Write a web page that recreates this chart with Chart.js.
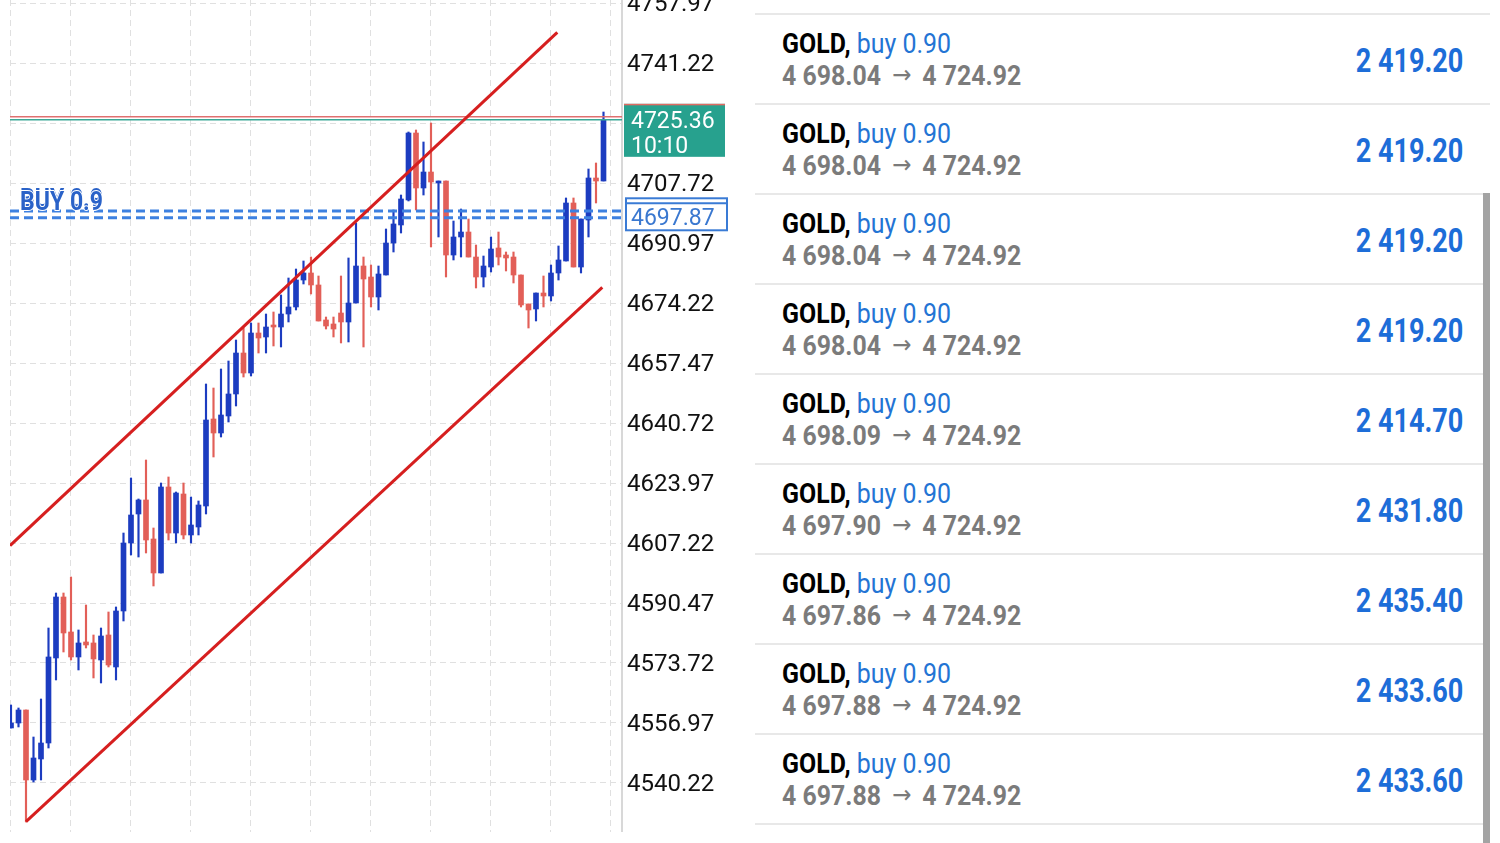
<!DOCTYPE html>
<html>
<head>
<meta charset="utf-8">
<script src="https://cdn.jsdelivr.net/npm/chart.js@4.4.1/dist/chart.umd.min.js"></script>
<style>
  html, body { margin: 0; padding: 0; background: #fff; }
  body { width: 1500px; height: 843px; position: relative; overflow: hidden; font-family: Roboto, "Noto Sans", sans-serif; }
  #chartBox { position: absolute; left: 0; top: 0; width: 740px; height: 832px; }
  #trades { position: absolute; left: 755px; top: 0; width: 735px; height: 843px; }
  .sep { position: absolute; left: 0; width: 735px; height: 2px; background: #e8e8e8; }
  .l1, .l2, .val { position: absolute; white-space: nowrap; }
  .l1 { left: 27px; font-size: 28px; line-height: 28px; transform-origin: 0 50%; transform: scaleX(0.89); }
  .l1 .sym { font-weight: bold; color: #000; }
  .l1 .side { color: #2374d4; }
  .l2 { left: 27px; font-size: 27px; line-height: 27px; font-weight: bold; color: #7b7b7b; transform-origin: 0 50%; transform: scaleX(0.92); }
  .l2 .arr { display: inline-block; font-family: "DejaVu Sans", sans-serif; font-weight: normal; font-size: 25px; margin: 0 12px; position: relative; top: -2px; }
  .val { right: 27px; font-size: 33px; line-height: 33px; font-weight: bold; color: #1d6dd8; transform-origin: 100% 50%; transform: scaleX(0.82); }
  #scroll { position: absolute; left: 1483px; top: 193px; width: 7px; height: 650px; background: #a3a3a3; }
</style>
</head>
<body>
<div id="chartBox"><canvas id="chart" width="740" height="832"></canvas></div>
<div id="trades"></div>
<div id="scroll"></div>
<script>
// candles, oldest first (index = bar number)
const opens = [4555.58, 4556.97, 4560.60, 4541.06, 4546.92, 4551.39, 4575.12, 4592.15, 4582.38, 4575.40,
  4579.59, 4579.31, 4574.56, 4581.54, 4572.61, 4588.24, 4607.22, 4615.32, 4619.23, 4608.34,
  4598.85, 4622.86, 4610.01, 4620.90, 4609.46, 4611.69, 4617.55, 4641.84, 4637.93, 4642.68,
  4648.82, 4660.26, 4654.68, 4665.85, 4664.73, 4667.80, 4667.52, 4671.15, 4673.11, 4680.64,
  4682.60, 4679.25, 4669.48, 4668.36, 4671.43, 4668.92, 4674.22, 4684.55, 4681.48, 4675.90,
  4682.04, 4690.97, 4696.00, 4702.98, 4721.68, 4706.33, 4710.79, 4707.72, 4708.28, 4687.62,
  4692.65, 4694.04, 4687.06, 4681.48, 4684.27, 4689.58, 4687.62, 4687.06, 4682.04, 4673.94,
  4672.55, 4677.01, 4676.18, 4682.60, 4685.95, 4702.14, 4684.27, 4697.39, 4709.12, 4708.28];
const highs = [4562.00, 4561.16, 4560.60, 4553.06, 4563.67, 4583.49, 4593.26, 4593.26, 4597.73, 4582.94,
  4589.91, 4581.54, 4583.49, 4587.96, 4589.36, 4610.01, 4625.37, 4619.51, 4630.39, 4611.41,
  4623.97, 4625.65, 4621.46, 4623.97, 4620.06, 4618.95, 4651.61, 4650.49, 4655.80, 4658.03,
  4663.89, 4667.24, 4668.64, 4668.64, 4671.15, 4671.71, 4676.46, 4681.20, 4683.71, 4685.95,
  4687.06, 4681.76, 4670.31, 4670.31, 4681.76, 4686.79, 4696.56, 4687.06, 4684.83, 4684.55,
  4694.88, 4700.19, 4704.37, 4721.96, 4722.52, 4719.17, 4724.47, 4708.28, 4708.28, 4697.11,
  4700.46, 4697.67, 4690.41, 4687.34, 4692.65, 4694.04, 4688.46, 4688.46, 4682.04, 4673.94,
  4677.01, 4681.76, 4684.83, 4690.14, 4703.54, 4703.54, 4697.67, 4711.63, 4713.31, 4727.54];
const lows = [4555.58, 4555.86, 4529.34, 4540.50, 4541.06, 4549.99, 4568.98, 4576.79, 4574.56, 4571.77,
  4577.91, 4569.54, 4568.14, 4572.61, 4568.98, 4585.45, 4603.87, 4603.31, 4604.43, 4595.22,
  4598.85, 4608.06, 4607.22, 4608.34, 4607.22, 4609.46, 4615.32, 4631.23, 4636.81, 4641.00,
  4645.47, 4653.56, 4653.84, 4660.26, 4660.26, 4662.22, 4661.94, 4668.92, 4672.27, 4679.53,
  4676.74, 4669.20, 4666.96, 4664.73, 4663.06, 4663.34, 4674.22, 4661.94, 4673.11, 4672.27,
  4682.04, 4688.46, 4693.76, 4702.70, 4700.19, 4704.37, 4689.86, 4692.65, 4681.48, 4686.23,
  4687.06, 4687.06, 4678.41, 4678.69, 4682.88, 4684.83, 4683.16, 4679.81, 4673.11, 4667.24,
  4669.20, 4673.11, 4674.78, 4680.64, 4685.95, 4684.27, 4682.60, 4692.65, 4702.14, 4708.28];
const closes = [4556.97, 4560.60, 4541.06, 4547.20, 4551.39, 4575.40, 4592.15, 4582.10, 4575.40, 4579.31,
  4578.75, 4574.84, 4581.26, 4573.16, 4588.24, 4607.22, 4615.04, 4619.23, 4608.06, 4598.85,
  4622.86, 4610.01, 4621.18, 4609.46, 4612.25, 4617.83, 4641.56, 4637.93, 4642.96, 4648.82,
  4660.26, 4654.68, 4665.85, 4664.45, 4667.52, 4667.52, 4671.15, 4673.11, 4680.64, 4682.60,
  4679.25, 4669.20, 4667.80, 4666.96, 4668.92, 4674.22, 4684.55, 4680.92, 4675.90, 4682.32,
  4690.97, 4696.28, 4703.26, 4721.68, 4706.33, 4710.79, 4708.00, 4708.28, 4687.62, 4692.65,
  4694.04, 4687.06, 4681.48, 4684.55, 4689.30, 4687.06, 4686.79, 4682.04, 4673.66, 4672.27,
  4677.01, 4676.18, 4682.60, 4686.23, 4702.14, 4684.27, 4697.67, 4709.12, 4708.28, 4725.36];

// price axis
const yTicks = [4523.47, 4540.22, 4556.97, 4573.72, 4590.47, 4607.22, 4623.97, 4640.72,
  4657.47, 4674.22, 4690.97, 4707.72, 4724.47, 4741.22, 4757.97];
const yMin = 4526.54, yMax = 4758.81;
const xMin = -0.133, xMax = 81.467;
const xGrid = [0, 8, 16, 24, 32, 40, 48, 56, 64, 72, 80];

// price levels and channel (bar index, price)
const askPrice = 4726.2;
const bidPrice = 4725.36;
const barTime = '10:10';
const buyLevels = [4699.90, 4698.04];
const entryPrice = 4697.87;
const buyLabel = 'BUY 0.9';
const upperChannel = [[-0.13, 4606.50], [72.84, 4749.79]];
const lowerChannel = [[2.0, 4529.42], [78.84, 4678.60]];

// open positions list
const tradeSymbol = 'GOLD';
const tradeSide = 'buy';
const tradeVolume = 0.90;
const tradeOpen = [4698.04, 4698.04, 4698.04, 4698.04, 4698.09, 4697.90, 4697.86, 4697.88, 4697.88];
const tradeCurrent = 4724.92;
const tradeProfit = [2419.20, 2419.20, 2419.20, 2419.20, 2414.70, 2431.80, 2435.40, 2433.60, 2433.60];

const BLUE = '#1c3cc0';
const RED = '#e25f58';

function fmt(n) {
    const [a, b] = n.toFixed(2).split('.');
    return a.replace(/\B(?=(\d{3})+(?!\d))/g, ' ') + '.' + b;
}

// trades panel
const panel = document.getElementById('trades');
let html = '';
for (let r = 0; r <= tradeOpen.length; r++) {
    html += '<div class="sep" style="top:' + (13 + 90 * r) + 'px"></div>';
}
tradeOpen.forEach((p, r) => {
    const top = 14 + 90 * r;
    html += '<div class="l1" style="top:' + (top + 16) + 'px"><span class="sym">' + tradeSymbol +
        ',</span> <span class="side">' + tradeSide + ' ' + tradeVolume.toFixed(2) + '</span></div>';
    html += '<div class="l2" style="top:' + (top + 49) + 'px">' + fmt(p) +
        '<span class="arr">→</span>' + fmt(tradeCurrent) + '</div>';
    html += '<div class="val" style="top:' + (top + 30) + 'px">' + fmt(tradeProfit[r]) + '</div>';
});
panel.innerHTML = html;

const candleColor = ctx => closes[ctx.dataIndex] >= opens[ctx.dataIndex] ? BLUE : RED;
const hLine = (price, color, width, dash) => ({
    type: 'line',
    data: [{x: xMin, y: price}, {x: xMax, y: price}],
    borderColor: color, borderWidth: width, borderDash: dash || [],
    pointRadius: 0, order: 0
});
const segLine = pts => ({
    type: 'line',
    data: pts.map(p => ({x: p[0], y: p[1]})),
    borderColor: '#d61f1f', borderWidth: 3, pointRadius: 0, order: 0
});

const overlays = {
    id: 'overlays',
    afterDraw(chart) {
        const {ctx, chartArea, scales: {y}} = chart;
        const ax = chartArea.right;
        ctx.save();

        // BUY label on the entry lines
        const ly = y.getPixelForValue(buyLevels[0]) - 1;
        ctx.font = 'bold 26px Roboto';
        const sx = 83 / ctx.measureText(buyLabel).width;
        [ly - 3, ly].forEach(b => {
            ctx.save();
            ctx.translate(20, b);
            ctx.scale(sx, 1);
            ctx.lineWidth = 2;
            ctx.strokeStyle = '#fff';
            ctx.strokeText(buyLabel, 0, 0);
            ctx.fillStyle = '#2a62c8';
            ctx.fillText(buyLabel, 0, 0);
            ctx.restore();
        });

        // current price box
        const by = y.getPixelForValue(bidPrice);
        ctx.fillStyle = '#27a18e';
        ctx.fillRect(ax + 2, by - 16, 101, 53);
        ctx.fillStyle = '#e06a62';
        ctx.fillRect(ax + 2, by - 16, 101, 1.5);
        ctx.font = '23px Roboto';
        ctx.textBaseline = 'middle';
        ctx.textAlign = 'left';
        ctx.fillStyle = '#fff';
        ctx.fillText(bidPrice.toFixed(2), ax + 9, by + 2);
        ctx.fillText(barTime, ax + 9, by + 27);

        // entry price box
        const ey = y.getPixelForValue(entryPrice);
        ctx.fillStyle = '#fff';
        ctx.fillRect(ax + 4, ey - 20, 101, 32);
        ctx.strokeStyle = '#3a7bd5';
        ctx.lineWidth = 2;
        ctx.strokeRect(ax + 4, ey - 20, 101, 32);
        ctx.beginPath();
        ctx.moveTo(ax + 4, ey - 15);
        ctx.lineTo(ax + 105, ey - 15);
        ctx.stroke();
        ctx.fillStyle = '#3a78d0';
        ctx.fillText(entryPrice.toFixed(2), ax + 9, ey + 1);
        ctx.restore();
    }
};

new Chart(document.getElementById('chart'), {
    type: 'bar',
    data: {
        datasets: [
            segLine(upperChannel),
            segLine(lowerChannel),
            hLine(askPrice, '#e07070', 1.5),
            hLine(bidPrice, '#3aa896', 1.5),
            hLine(buyLevels[0], '#3d80e0', 3, [9, 5]),
            hLine(buyLevels[1], '#3d80e0', 3, [9, 5]),
            {
                data: opens.map((o, i) => ({x: i, y: [o, closes[i]]})),
                backgroundColor: candleColor,
                grouped: false, barThickness: 5, maxBarThickness: 5, minBarLength: 2,
                order: 1
            },
            {
                data: lows.map((l, i) => ({x: i, y: [l, highs[i]]})),
                backgroundColor: candleColor,
                grouped: false, barThickness: 1.5, maxBarThickness: 1.5,
                order: 2
            }
        ]
    },
    options: {
        responsive: false,
        animation: false,
        layout: {padding: {left: 10, top: 0, right: 0, bottom: 0}},
        plugins: {legend: {display: false}, tooltip: {enabled: false}},
        scales: {
            x: {
                type: 'linear', min: xMin, max: xMax, offset: false,
                grid: {color: '#e0e0e0', lineWidth: 1, drawTicks: false, offset: false},
                border: {display: false, dash: [6, 4]},
                ticks: {display: false},
                afterBuildTicks: s => { s.ticks = xGrid.map(v => ({value: v})); },
                afterFit: s => { s.height = 0; s.paddingLeft = 0; s.paddingRight = 0; }
            },
            y: {
                type: 'linear', position: 'right', min: yMin, max: yMax,
                grid: {color: '#e0e0e0', lineWidth: 1, drawTicks: false},
                border: {display: true, color: '#d8d8d8', width: 2, dash: [6, 4]},
                ticks: {
                    color: '#111', padding: 5, autoSkip: false, labelOffset: 2,
                    font: {family: 'Roboto', size: 24},
                    callback: v => v.toFixed(2)
                },
                afterBuildTicks: s => { s.ticks = yTicks.map(v => ({value: v})); },
                afterFit: s => { s.width = 118; s.paddingTop = 0; s.paddingBottom = 0; }
            }
        }
    },
    plugins: [overlays]
});
</script>
</body>
</html>
